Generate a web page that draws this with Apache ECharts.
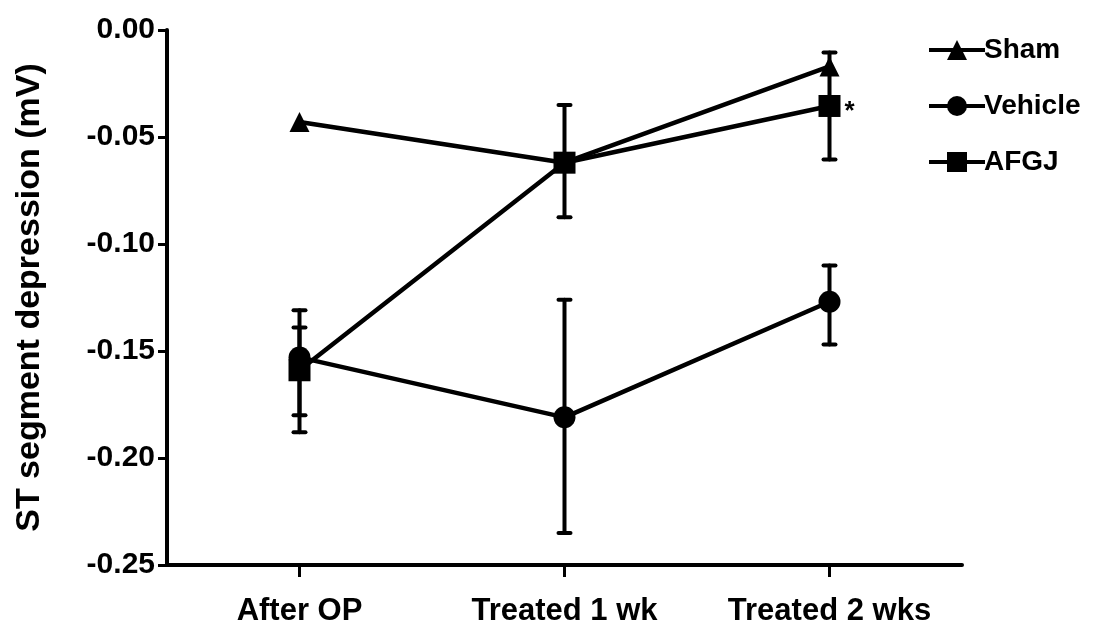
<!DOCTYPE html>
<html>
<head>
<meta charset="utf-8">
<script src="https://cdn.jsdelivr.net/npm/echarts@6/dist/echarts.min.js"></script>
<style>
  html, body { margin: 0; padding: 0; background: #fff; }
  #chart { width: 1098px; height: 633px; }
</style>
</head>
<body>
<div id="chart"></div>
<script>
// Time points
const categories = ['After OP', 'Treated 1 wk', 'Treated 2 wks'];

// Group means of ST segment depression (mV)
const shamMean    = [-0.043, -0.062, -0.017];
const vehicleMean = [-0.153, -0.181, -0.127];
const afgjMean    = [-0.159, -0.062, -0.0355];

// Error bar ends (lower, upper)
const vehicleLow  = [-0.180, -0.235, -0.147];
const vehicleHigh = [-0.139, -0.126, -0.110];
const afgjLow     = [-0.188, -0.0875, -0.0605];
const afgjHigh    = [-0.131, -0.035, -0.0105];

// Significance mark next to the AFGJ 2-week point
const afgjMarks = ['', '', '*'];

// Y axis ticks
const yMin = -0.25, yMax = 0, yStep = 0.05;

const FONT = '"Liberation Sans", Arial, Helvetica, sans-serif';
const INK = '#000';

function errorBarSeries(name, low, high) {
  return {
    type: 'custom',
    name: name + ' SEM',
    z: 1,
    silent: true,
    data: categories.map((c, i) => [i, low[i], high[i]]),
    renderItem: function (params, api) {
      const x = api.value(0);
      const lo = api.coord([x, api.value(1)]);
      const hi = api.coord([x, api.value(2)]);
      const cap = 6;
      const style = { stroke: INK, lineWidth: 4, lineCap: 'round' };
      return {
        type: 'group',
        children: [
          { type: 'line', shape: { x1: lo[0], y1: lo[1], x2: hi[0], y2: hi[1] }, style: style },
          { type: 'line', shape: { x1: lo[0] - cap, y1: lo[1], x2: lo[0] + cap, y2: lo[1] }, style: style },
          { type: 'line', shape: { x1: hi[0] - cap, y1: hi[1], x2: hi[0] + cap, y2: hi[1] }, style: style }
        ]
      };
    }
  };
}

function lineSeries(name, values, symbol, size, marks) {
  return {
    type: 'line',
    name: name,
    z: 3,
    data: values.map((v, i) => {
      const item = { value: v };
      if (marks && marks[i]) {
        item.label = {
          show: true, formatter: marks[i], position: 'right', distance: 4,
          offset: [0, 6], color: INK, fontFamily: FONT, fontWeight: 'bold', fontSize: 26
        };
      }
      return item;
    }),
    symbol: symbol,
    symbolSize: size,
    showAllSymbol: true,
    lineStyle: { color: INK, width: 4.5 },
    itemStyle: { color: INK, borderWidth: 0 },
    emphasis: { disabled: true },
    animation: false
  };
}

const chart = echarts.init(document.getElementById('chart'), null, { renderer: 'canvas' });
chart.setOption({
  backgroundColor: '#fff',
  animation: false,
  grid: { left: 167, right: 136, top: 30, bottom: 68, containLabel: false },
  legend: {
    orient: 'vertical',
    left: 922,
    top: 30,
    itemWidth: 56,
    itemHeight: 25,
    itemGap: 26,
    data: ['Sham', 'Vehicle', 'AFGJ'],
    lineStyle: { width: 4, color: INK },
    textStyle: { color: INK, fontFamily: FONT, fontWeight: 'bold', fontSize: 28, lineHeight: 30, padding: [0, 0, 0, -6] },
    selectedMode: false
  },
  xAxis: {
    type: 'category',
    data: categories,
    boundaryGap: true,
    position: 'bottom',
    axisLine: { onZero: false, lineStyle: { color: INK, width: 4 } },
    axisTick: { show: true, interval: 0, alignWithLabel: true, length: 12, lineStyle: { color: INK, width: 3 } },
    axisLabel: { show: true, interval: 0, hideOverlap: false, color: INK, fontFamily: FONT, fontWeight: 'bold', fontSize: 31, margin: 31 },
    splitLine: { show: false }
  },
  yAxis: {
    type: 'value',
    min: yMin, max: yMax, interval: yStep,
    name: 'ST segment depression (mV)',
    nameLocation: 'middle',
    nameGap: 120,
    nameTextStyle: { color: INK, fontFamily: FONT, fontWeight: 'bold', fontSize: 34 },
    axisLine: { show: true, onZero: false, lineStyle: { color: INK, width: 4 } },
    axisTick: { show: true, length: 9, lineStyle: { color: INK, width: 3 } },
    axisLabel: {
      color: INK, fontFamily: FONT, fontWeight: 'bold', fontSize: 30, margin: 12,
      formatter: v => v.toFixed(2)
    },
    splitLine: { show: false }
  },
  series: [
    errorBarSeries('Vehicle', vehicleLow, vehicleHigh),
    errorBarSeries('AFGJ', afgjLow, afgjHigh),
    lineSeries('Sham', shamMean, 'triangle', 20),
    lineSeries('Vehicle', vehicleMean, 'circle', 22),
    lineSeries('AFGJ', afgjMean, 'rect', 22, afgjMarks)
  ]
});
</script>
</body>
</html>
